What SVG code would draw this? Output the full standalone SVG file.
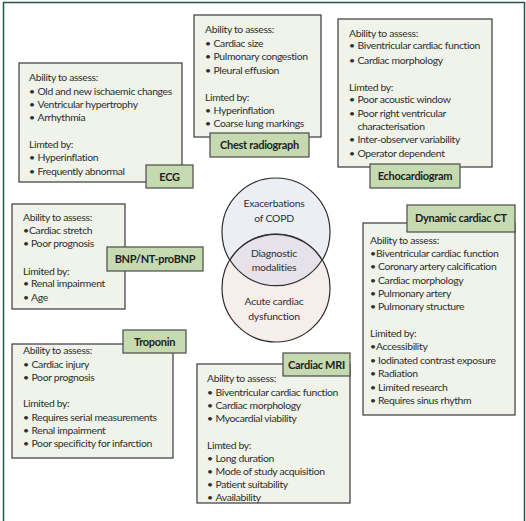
<svg xmlns="http://www.w3.org/2000/svg" width="526" height="521" viewBox="0 0 526 521">
<style>
.box{fill:#eff3e9;stroke:#3a3a3a;stroke-width:1.2}
.tab{fill:#c6dab1;stroke:#4a4a4a;stroke-width:1.2}
.t{font-family:Lato,"Liberation Sans",sans-serif;font-size:10.4px;fill:#2e2e2e;letter-spacing:-0.35px}
.lab{font-family:Lato,"Liberation Sans",sans-serif;font-size:11px;font-weight:bold;fill:#1e1e1e;text-anchor:middle;letter-spacing:-0.3px}
.c{font-family:Lato,"Liberation Sans",sans-serif;font-size:10.4px;fill:#2e2e2e;text-anchor:middle;letter-spacing:-0.2px}
</style>
<rect x="0" y="0" width="526" height="521" fill="#ffffff"/>
<path d="M3.5 521 V2.5 H524.5 V521" fill="none" stroke="#1f5a4c" stroke-width="1.5"/>

<g id="venn">
<circle cx="276" cy="232" r="54" fill="#eceef6" stroke="#2e2e2e" stroke-width="1.2"/>
<circle cx="276" cy="288" r="54" fill="#f6eeeb" stroke="#2e2e2e" stroke-width="1.2"/>
<path d="M230 260 A54 54 0 0 1 322 260 A54 54 0 0 1 230 260 Z" fill="#e5e2ec"/>
<path d="M230 260 A54 54 0 0 0 322 260" fill="none" stroke="#2e2e2e" stroke-width="1.2"/>
<path d="M230 260 A54 54 0 0 1 322 260" fill="none" stroke="#2e2e2e" stroke-width="1.2"/>
<text class="c" x="274" y="207">Exacerbations</text>
<text class="c" x="274" y="222">of COPD</text>
<text class="c" x="274" y="257">Diagnostic</text>
<text class="c" x="274" y="271">modalities</text>
<text class="c" x="274" y="305">Acute cardiac</text>
<text class="c" x="274" y="320">dysfunction</text>
</g>

<g id="ecg">
<rect class="box" x="19" y="63" width="163" height="119"/>
<rect class="tab" x="146" y="165" width="47" height="23"/>
<text class="lab" x="169.5" y="180.5">ECG</text>
<text class="t"><tspan x="29" y="81">Ability to assess:</tspan>
<tspan x="29" y="94.5">•</tspan><tspan x="37.5" y="94.5">Old and new ischaemic changes</tspan>
<tspan x="29" y="107.5">•</tspan><tspan x="37.5" y="107.5">Ventricular hypertrophy</tspan>
<tspan x="29" y="121">•</tspan><tspan x="37.5" y="121">Arrhythmia</tspan>
<tspan x="29" y="148">Limted by:</tspan>
<tspan x="29" y="161">•</tspan><tspan x="37.5" y="161">Hyperinflation</tspan>
<tspan x="29" y="174.5">•</tspan><tspan x="37.5" y="174.5">Frequently abnormal</tspan></text>
</g>

<g id="chest">
<rect class="box" x="194" y="15" width="127" height="122"/>
<rect class="tab" x="210" y="133" width="99" height="24"/>
<text class="lab" x="259.5" y="149">Chest radiograph</text>
<text class="t"><tspan x="205" y="32.5">Ability to assess:</tspan>
<tspan x="205" y="46.5">•</tspan><tspan x="213.5" y="46.5">Cardiac size</tspan>
<tspan x="205" y="59.5">•</tspan><tspan x="213.5" y="59.5">Pulmonary congestion</tspan>
<tspan x="205" y="73.5">•</tspan><tspan x="213.5" y="73.5">Pleural effusion</tspan>
<tspan x="205" y="100.5">Limted by:</tspan>
<tspan x="205" y="113.5">•</tspan><tspan x="213.5" y="113.5">Hyperinflation</tspan>
<tspan x="205" y="126.5">•</tspan><tspan x="213.5" y="126.5">Coarse lung markings</tspan></text>
</g>

<g id="echo">
<rect class="box" x="338" y="19" width="154" height="148"/>
<rect class="tab" x="370" y="164" width="90" height="24"/>
<text class="lab" x="415" y="180">Echocardiogram</text>
<text class="t"><tspan x="349" y="36.5">Ability to assess:</tspan>
<tspan x="349" y="49">•</tspan><tspan x="357.5" y="49">Biventricular cardiac function</tspan>
<tspan x="349" y="63.5">•</tspan><tspan x="357.5" y="63.5">Cardiac morphology</tspan>
<tspan x="349" y="90.5">Limted by:</tspan>
<tspan x="349" y="102.5">•</tspan><tspan x="357.5" y="102.5">Poor acoustic window</tspan>
<tspan x="349" y="116.5">•</tspan><tspan x="357.5" y="116.5">Poor right ventricular</tspan>
<tspan x="357.5" y="130">characterisation</tspan>
<tspan x="349" y="142.5">•</tspan><tspan x="357.5" y="142.5">Inter-observer variability</tspan>
<tspan x="349" y="156.5">•</tspan><tspan x="357.5" y="156.5">Operator dependent</tspan></text>
</g>

<g id="bnp">
<rect class="box" x="12" y="204" width="113" height="105"/>
<rect class="tab" x="107" y="247" width="96" height="24"/>
<text class="lab" x="155" y="263">BNP/NT-proBNP</text>
<text class="t"><tspan x="23" y="220.5">Ability to assess:</tspan>
<tspan x="23" y="233.5">•</tspan><tspan x="29" y="233.5">Cardiac stretch</tspan>
<tspan x="23" y="246.5">•</tspan><tspan x="31" y="246.5">Poor prognosis</tspan>
<tspan x="23" y="274.5">Limited by:</tspan>
<tspan x="23" y="287">•</tspan><tspan x="31" y="287">Renal impairment</tspan>
<tspan x="23" y="300.5">•</tspan><tspan x="31" y="300.5">Age</tspan></text>
</g>

<g id="troponin">
<rect class="box" x="12" y="344" width="161" height="114"/>
<rect class="tab" x="123" y="330" width="63" height="23"/>
<text class="lab" x="154.5" y="345.5">Troponin</text>
<text class="t"><tspan x="23" y="353.5">Ability to assess:</tspan>
<tspan x="23" y="367.5">•</tspan><tspan x="31.5" y="367.5">Cardiac injury</tspan>
<tspan x="23" y="380.5">•</tspan><tspan x="31.5" y="380.5">Poor prognosis</tspan>
<tspan x="23" y="406.5">Limited by:</tspan>
<tspan x="23" y="420.5">•</tspan><tspan x="31.5" y="420.5">Requires serial measurements</tspan>
<tspan x="23" y="433.5">•</tspan><tspan x="31.5" y="433.5">Renal impairment</tspan>
<tspan x="23" y="446.5">•</tspan><tspan x="31.5" y="446.5">Poor specificity for infarction</tspan></text>
</g>

<g id="mri">
<rect class="box" x="197" y="364" width="153" height="139"/>
<rect class="tab" x="283" y="353" width="67" height="23"/>
<text class="lab" x="316.5" y="368.5">Cardiac MRI</text>
<text class="t"><tspan x="207" y="381.5">Ability to assess:</tspan>
<tspan x="207" y="395.5">•</tspan><tspan x="215.5" y="395.5">Biventricular cardiac function</tspan>
<tspan x="207" y="408.5">•</tspan><tspan x="215.5" y="408.5">Cardiac morphology</tspan>
<tspan x="207" y="421.5">•</tspan><tspan x="215.5" y="421.5">Myocardial viability</tspan>
<tspan x="207" y="448.5">Limted by:</tspan>
<tspan x="207" y="461.5">•</tspan><tspan x="215.5" y="461.5">Long duration</tspan>
<tspan x="207" y="475">•</tspan><tspan x="215.5" y="475">Mode of study acquisition</tspan>
<tspan x="207" y="487.5">•</tspan><tspan x="215.5" y="487.5">Patient suitability</tspan>
<tspan x="207" y="501">•</tspan><tspan x="215.5" y="501">Availability</tspan></text>
</g>

<g id="ct">
<rect class="box" x="363" y="223" width="152" height="192"/>
<rect class="tab" x="407" y="205" width="108" height="27"/>
<text class="lab" x="461" y="222">Dynamic cardiac CT</text>
<text class="t"><tspan x="370" y="243.5">Ability to assess:</tspan>
<tspan x="370" y="256.5">•</tspan><tspan x="376" y="256.5">Biventricular cardiac function</tspan>
<tspan x="370" y="270">•</tspan><tspan x="378" y="270">Coronary artery calcification</tspan>
<tspan x="370" y="283.5">•</tspan><tspan x="378" y="283.5">Cardiac morphology</tspan>
<tspan x="370" y="296.5">•</tspan><tspan x="378" y="296.5">Pulmonary artery</tspan>
<tspan x="370" y="310">•</tspan><tspan x="378" y="310">Pulmonary structure</tspan>
<tspan x="370" y="337">Limited by:</tspan>
<tspan x="370" y="350">•</tspan><tspan x="376" y="350">Accessibility</tspan>
<tspan x="370" y="364">•</tspan><tspan x="378" y="364">Iodinated contrast exposure</tspan>
<tspan x="370" y="377">•</tspan><tspan x="378" y="377">Radiation</tspan>
<tspan x="370" y="390.5">•</tspan><tspan x="378" y="390.5">Limited research</tspan>
<tspan x="370" y="404">•</tspan><tspan x="378" y="404">Requires sinus rhythm</tspan></text>
</g>
</svg>
